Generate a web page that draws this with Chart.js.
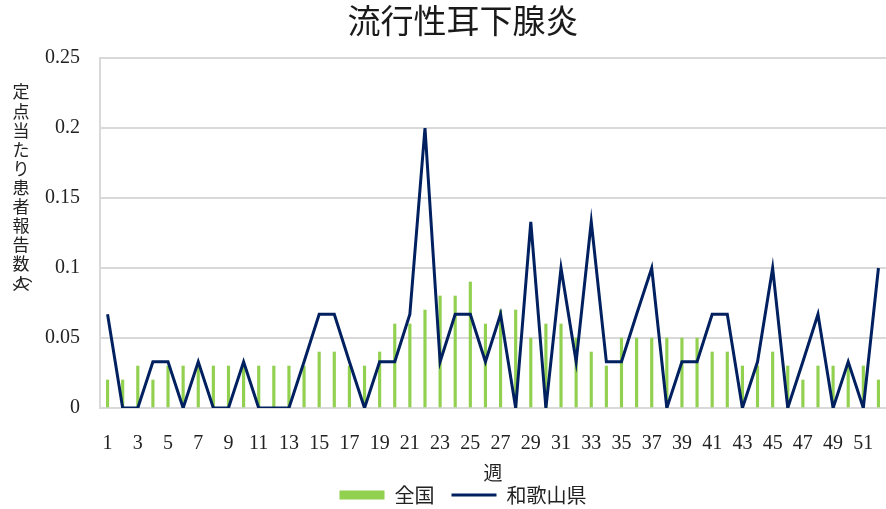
<!DOCTYPE html>
<html><head><meta charset="utf-8">
<script src="https://cdn.jsdelivr.net/npm/chart.js@4/dist/chart.umd.min.js"></script>
<style>html,body{margin:0;padding:0;background:#fff}#wrap{width:886px;height:509px}</style>
</head><body><div id="wrap"><canvas id="c" width="886" height="509"></canvas></div>
<script>
const titleText = '流行性耳下腺炎';
const xTitle = '週';
const yTitleChars = ['定','点','当','た','り','患','者','報','告','数'];
const yTitleTail = ['︵','人','︶'];
const seriesNames = ['全国', '和歌山県'];
const weeks = ['1','2','3','4','5','6','7','8','9','10','11','12','13','14','15','16','17','18','19','20','21','22','23','24','25','26','27','28','29','30','31','32','33','34','35','36','37','38','39','40','41','42','43','44','45','46','47','48','49','50','51','52'];
const yTickValues = [0, 0.05, 0.1, 0.15, 0.2, 0.25];
const national = [0.02,0.02,0.03,0.02,0.03,0.03,0.03,0.03,0.03,0.03,
                  0.03,0.03,0.03,0.03,0.04,0.04,0.03,0.03,0.04,0.06,
                  0.06,0.07,0.08,0.08,0.09,0.06,0.07,0.07,0.05,0.06,
                  0.06,0.05,0.04,0.03,0.05,0.05,0.05,0.05,0.05,0.05,
                  0.04,0.04,0.03,0.03,0.04,0.03,0.02,0.03,0.03,0.03,0.03,0.02];
const wakayama = [0.067,0,0,0.033,0.033,0,0.033,0,0,0.033,
                  0,0,0,0.033,0.067,0.067,0.033,0,0.033,0.033,
                  0.067,0.2,0.033,0.067,0.067,0.033,0.067,0,0.133,0,
                  0.1,0.033,0.133,0.033,0.033,0.067,0.1,0,0.033,0.033,
                  0.067,0.067,0,0.033,0.1,0,0.033,0.067,0,0.033,0,0.1];

const GREEN = '#92d050', NAVY = '#002060', GRID = '#d9d9d9';
const CJK = '"Noto Sans CJK JP", "Noto Sans", sans-serif';
const SERIF = '"Liberation Serif", "DejaVu Serif", serif';

const yTitlePlugin = {
  id: 'yTitle',
  afterDraw(chart) {
    const ctx = chart.ctx;
    ctx.save();
    ctx.fillStyle = '#222';
    ctx.font = '17px ' + CJK;
    ctx.textAlign = 'center';
    ctx.textBaseline = 'middle';
    const x = 21;
    let y = 92;
    yTitleChars.forEach(ch => { ctx.fillText(ch, x, y); y += 19.1; });
    ctx.fillText(yTitleTail[0], x + 3, y - 8);
    ctx.fillText(yTitleTail[1], x, y + 1);
    ctx.fillText(yTitleTail[2], x, y + 9);
    ctx.restore();
  }
};

new Chart(document.getElementById('c'), {
  data: {
    labels: weeks,
    datasets: [
      { type: 'bar', label: seriesNames[0], data: national, backgroundColor: GREEN, barThickness: 2.5, order: 1 },
      { type: 'line', label: seriesNames[1], data: wakayama, borderColor: NAVY, borderWidth: 3, pointRadius: 0, tension: 0, fill: false, order: 0 }
    ]
  },
  options: {
    responsive: false,
    animation: false,
    devicePixelRatio: 1,
    layout: { padding: { left: 40, right: 0, top: 0, bottom: -6 } },
    plugins: {
      title: {
        display: true, text: titleText, color: '#1a1a1a',
        font: { family: CJK, size: 33, weight: 'normal', lineHeight: 1.2 },
        padding: { top: 1, bottom: 17.4 }
      },
      legend: {
        position: 'bottom',
        labels: {
          usePointStyle: true, pointStyleWidth: 45, boxWidth: 45, boxHeight: 9, padding: 17,
          color: '#222', font: { family: CJK, size: 20 },
          generateLabels: () => [
            { text: seriesNames[0], fillStyle: GREEN, strokeStyle: GREEN, lineWidth: 0, pointStyle: 'rect', hidden: false, datasetIndex: 0, fontColor: '#222' },
            { text: seriesNames[1], fillStyle: NAVY, strokeStyle: NAVY, lineWidth: 3, pointStyle: 'line', hidden: false, datasetIndex: 1, fontColor: '#222' }
          ]
        }
      },
      tooltip: { enabled: false }
    },
    scales: {
      x: {
        afterFit: (s) => { s.paddingLeft = 0; s.paddingRight = 0; },
        grid: { display: false, drawTicks: false },
        border: { display: true, color: GRID, width: 2 },
        ticks: {
          autoSkip: false, maxRotation: 0, minRotation: 0, padding: 24, color: '#222',
          font: { family: SERIF, size: 20 },
          callback: (v, i) => (i % 2 === 0 ? weeks[i] : '')
        },
        title: {
          display: true, text: xTitle, color: '#222',
          font: { family: CJK, size: 19, lineHeight: 1.2 },
          padding: { top: -18.4, bottom: -16.4 }
        }
      },
      y: {
        min: 0, max: 0.25,
        afterBuildTicks: (s) => { s.ticks = yTickValues.map(v => ({ value: v })); },
        afterFit: (s) => { s.width = 60; },
        grid: { color: GRID, lineWidth: 2, drawTicks: false },
        border: { display: true, color: GRID, width: 2 },
        ticks: {
          padding: 20, color: '#222',
          font: { family: SERIF, size: 20 },
          callback: (v) => String(Number(v.toFixed(2)))
        }
      }
    }
  },
  plugins: [yTitlePlugin]
});
</script>
</body></html>
